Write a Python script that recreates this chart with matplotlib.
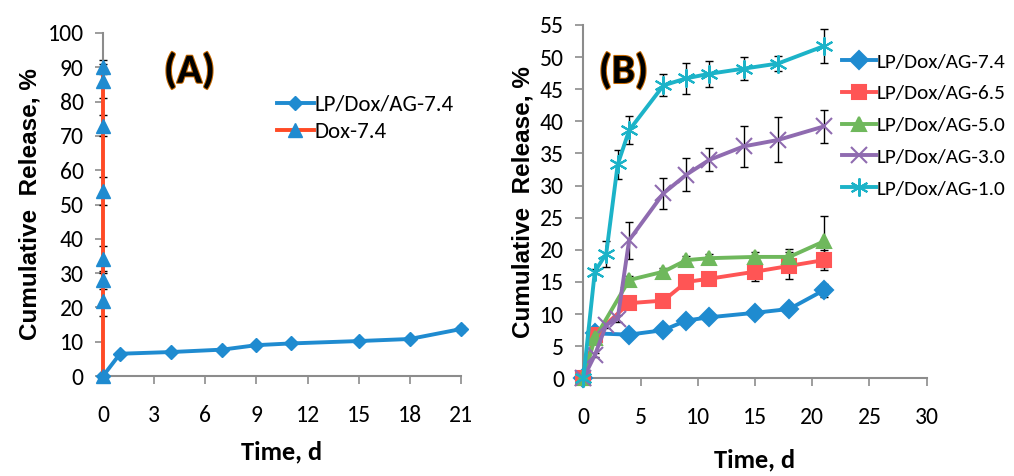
import matplotlib
matplotlib.use("Agg")
import matplotlib.pyplot as plt
import matplotlib.patheffects as pe

plt.rcParams["font.family"] = ["Carlito", "Liberation Sans Narrow", "Open Sans", "DejaVu Sans"]

# panel A
a_time = [0, 1, 4, 7, 9, 11, 15, 18, 21]
a_lp74 = [0, 6.5, 7.0, 7.7, 9.0, 9.5, 10.2, 10.8, 13.7]
a_lp74_err = [0, 0.3, 0.3, 0.3, 0.4, 0.4, 0.4, 0.5, 0.8]
a_dox_time = [0, 0, 0, 0, 0, 0, 0, 0]
a_dox = [0, 22, 28, 34, 54, 73, 86, 90]
a_dox_err = [0, 4.5, 2.5, 4.0, 4.0, 3.0, 5.0, 2.0]
a_xticks = [0, 3, 6, 9, 12, 15, 18, 21]

# panel B
b_time = [0, 1, 4, 7, 9, 11, 15, 18, 21]
b_lp74 = [0, 7.0, 6.8, 7.5, 9.0, 9.5, 10.2, 10.8, 13.7]
b_lp74_err = [0, 0.3, 0.3, 0.3, 0.4, 0.4, 0.4, 0.5, 1.0]
b_lp65 = [0, 6.8, 11.7, 12.1, 15.0, 15.5, 16.6, 17.5, 18.4]
b_lp65_err = [0, 0.4, 0.5, 0.5, 0.6, 1.0, 1.4, 2.1, 1.5]
b_lp50 = [0, 6.2, 15.3, 16.6, 18.4, 18.7, 18.9, 18.9, 21.3]
b_lp50_err = [0, 0.4, 0.6, 0.6, 0.6, 0.6, 0.8, 1.2, 3.9]
b_time30 = [0, 1, 2, 3, 4, 7, 9, 11, 14, 17, 21]
b_lp30 = [0, 3.6, 8.3, 9.3, 21.5, 28.8, 31.7, 34.0, 36.1, 37.1, 39.2]
b_lp30_err = [0, 0.3, 0.4, 0.6, 2.9, 2.4, 2.6, 1.8, 3.2, 3.5, 2.6]
b_time10 = [0, 1, 2, 3, 4, 7, 9, 11, 14, 17, 21]
b_lp10 = [0, 16.6, 19.4, 33.3, 38.6, 45.6, 46.7, 47.4, 48.2, 49.0, 51.7]
b_lp10_err = [0, 0.4, 2.0, 2.3, 2.2, 1.7, 2.4, 2.0, 1.8, 1.2, 2.6]
b_xticks = [0, 5, 10, 15, 20, 25, 30]

BLUE = "#1f8bd0"
RED = "#ff5555"
GREEN = "#6fb85c"
PURPLE = "#8f6bb0"
CYAN = "#1cb3c8"
ORANGE = "#ff4a25"
SPINE = "#8c8c8c"

fig = plt.figure(figsize=(10.14, 4.76), dpi=100)
ax1 = fig.add_axes([0.1016, 0.210, 0.3530, 0.7207])
ax2 = fig.add_axes([0.5753, 0.2052, 0.3386, 0.7423])

err_kw = dict(fmt="none", ecolor="black", elinewidth=1.0, capsize=3,
              capthick=1.0, clip_on=False)
leg_kw = dict(loc="upper left", frameon=False, handlelength=1.6,
              handletextpad=0.05, borderpad=0, borderaxespad=0)


def style_axes(ax):
    for side in ("top", "right"):
        ax.spines[side].set_visible(False)
    for side in ("left", "bottom"):
        ax.spines[side].set_color(SPINE)
        ax.spines[side].set_linewidth(1.5)
    ax.tick_params(axis="both", colors=SPINE, length=6, width=1.2,
                   labelcolor="black", labelsize=17, pad=8)
    ax.tick_params(axis="x", pad=15)


def label_axes(ax, xpad):
    ax.set_xlabel("Time, d", fontsize=19, fontweight="bold", labelpad=xpad)
    ax.set_ylabel("Cumulative  Release, %", fontsize=17.5, fontweight="bold",
                  labelpad=4, family=["Liberation Sans", "DejaVu Sans"])


# panel A
ax1.errorbar(a_time, a_lp74, yerr=a_lp74_err, zorder=2, **err_kw)
ax1.plot(a_time, a_lp74, color=BLUE, lw=2.8, marker="D", ms=7,
         label="LP/Dox/AG-7.4", clip_on=False, zorder=3)
ax1.errorbar(a_dox_time, a_dox, yerr=a_dox_err, zorder=2, **err_kw)
ax1.plot(a_dox_time, a_dox, color=ORANGE, lw=2.8, marker="^", ms=10,
         mfc=BLUE, mec=BLUE, label="Dox-7.4", clip_on=False, zorder=4)
ax1.set_xlim(0, 21)
ax1.set_ylim(0, 100)
ax1.set_xticks(a_xticks)
ax1.set_yticks(range(0, 101, 10))
style_axes(ax1)
label_axes(ax1, 10)
ax1.legend(bbox_to_anchor=(0.486, 0.82), fontsize=16.5, labelspacing=0.32,
           **leg_kw)
ax1.text(0.17, 0.89, "(A)", transform=ax1.transAxes, fontsize=30,
         fontweight="bold", va="center",
         path_effects=[pe.withStroke(linewidth=1.5, foreground="#c86a00")])

# panel B
series = [
    (b_time, b_lp74, b_lp74_err, BLUE, "D", 9, "LP/Dox/AG-7.4"),
    (b_time, b_lp65, b_lp65_err, RED, "s", 10, "LP/Dox/AG-6.5"),
    (b_time, b_lp50, b_lp50_err, GREEN, "^", 10, "LP/Dox/AG-5.0"),
    (b_time30, b_lp30, b_lp30_err, PURPLE, "x", 11, "LP/Dox/AG-3.0"),
    (b_time10, b_lp10, b_lp10_err, CYAN, (6, 2, 0), 13, "LP/Dox/AG-1.0"),
]
for i, (x, y, e, c, m, ms, lab) in enumerate(series):
    ax2.errorbar(x, y, yerr=e, zorder=2, **err_kw)
    ax2.plot(x, y, color=c, lw=2.8, marker=m, ms=ms, mew=1.5, label=lab,
             clip_on=False, zorder=3 + i)
ax2.set_xlim(0, 30)
ax2.set_ylim(0, 55)
ax2.set_xticks(b_xticks)
ax2.set_yticks(range(0, 56, 5))
style_axes(ax2)
label_axes(ax2, 14)
ax2.legend(bbox_to_anchor=(0.752, 0.921), fontsize=15.3, labelspacing=0.65,
           **leg_kw)
ax2.text(0.045, 0.87, "(B)", transform=ax2.transAxes, fontsize=30,
         fontweight="bold", va="center",
         path_effects=[pe.withStroke(linewidth=1.5, foreground="#c86a00")])

fig.savefig("out.png", dpi=100)
